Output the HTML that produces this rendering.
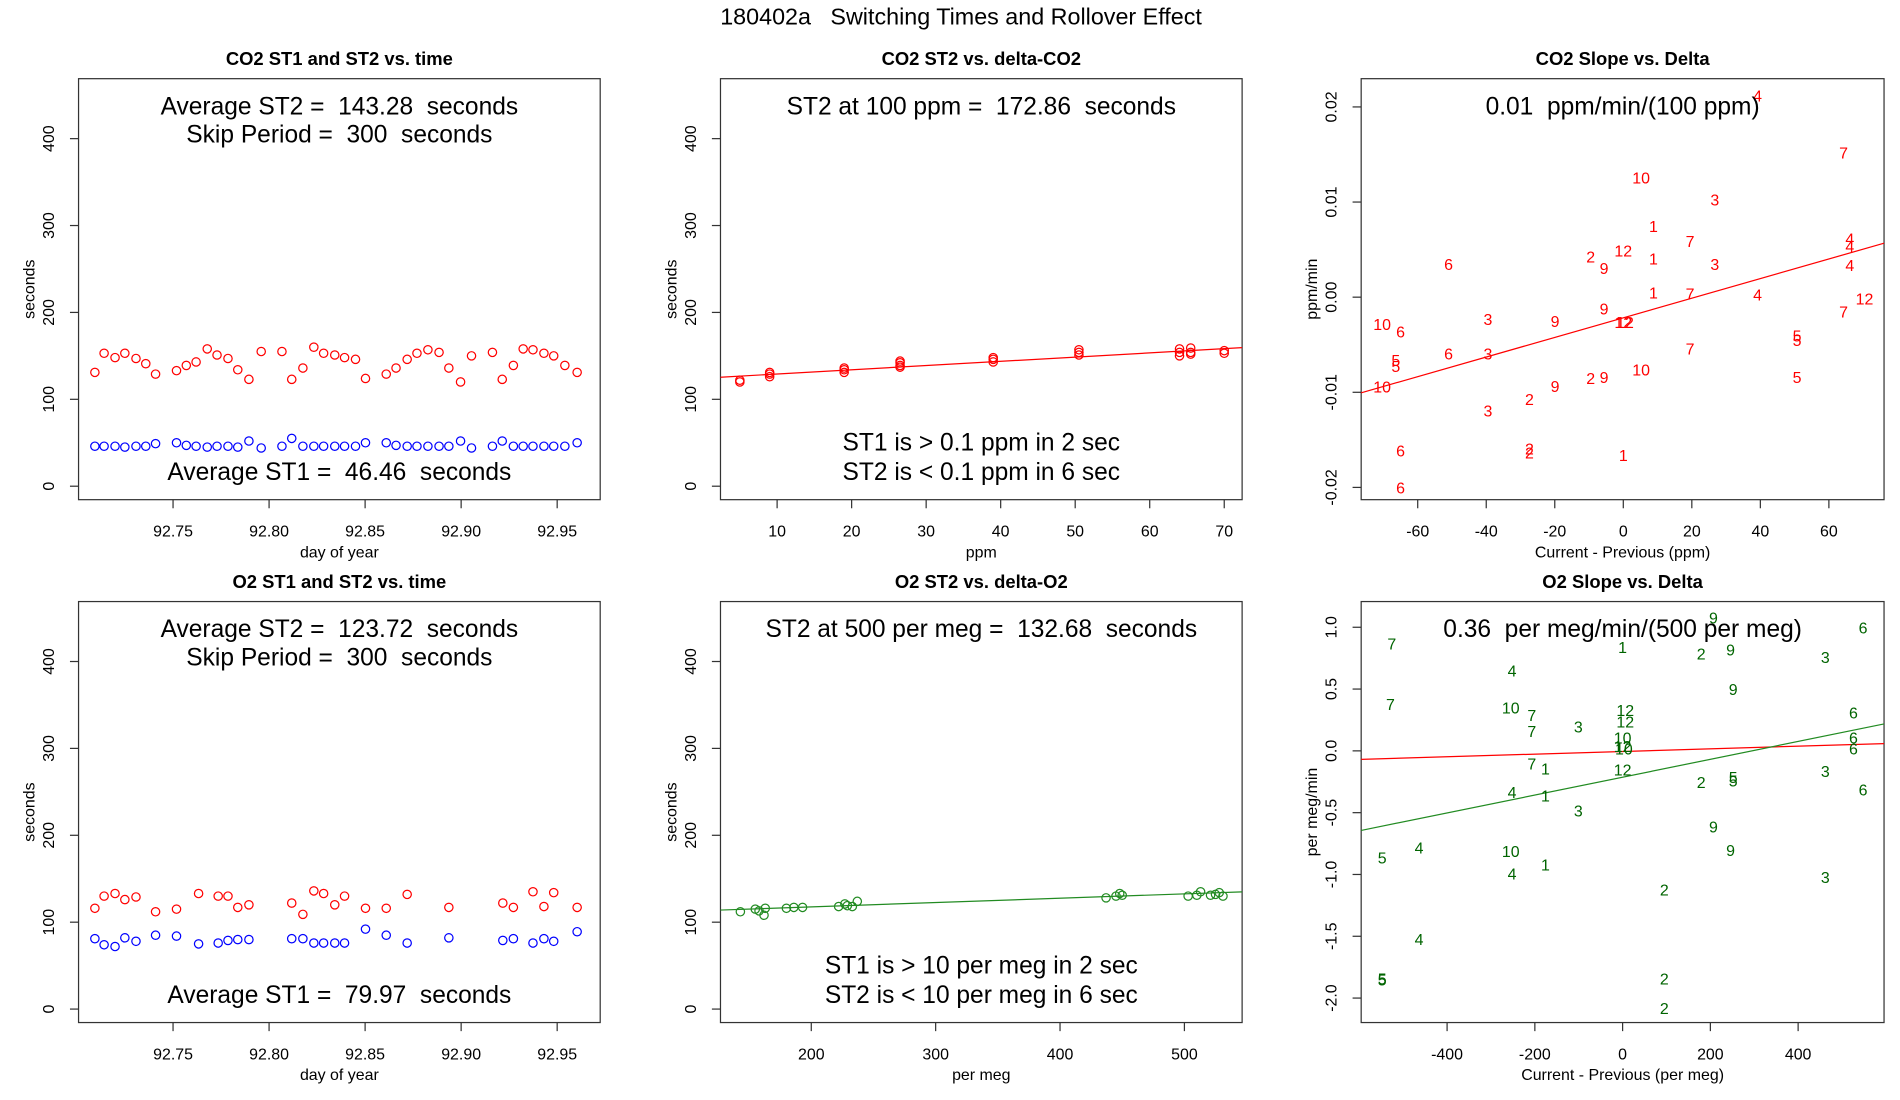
<!DOCTYPE html>
<html><head><meta charset="utf-8"><style>
html,body{margin:0;padding:0;background:#fff;width:1900px;height:1100px;overflow:hidden}
svg{display:block;font-family:"Liberation Sans",Arial,sans-serif}
svg text{white-space:pre}
</style></head><body>
<svg id="chart" width="1900" height="1100" viewBox="0 0 1548 896" xmlns="http://www.w3.org/2000/svg" xml:space="preserve">
<rect width="1548" height="896" fill="#fff"/>
<text x="783" y="20" font-size="19" text-anchor="middle">180402a   Switching Times and Rollover Effect</text>
</svg>
<script>
// ---------- DATA ----------
const co2Days = [92.7093,92.7141,92.7198,92.7249,92.7307,92.7358,92.7409,92.7518,92.7569,92.7620,92.7678,92.7729,92.7786,92.7837,92.7895,92.7959,92.8067,92.8118,92.8176,92.8233,92.8284,92.8342,92.8393,92.8450,92.8502,92.8610,92.8661,92.8719,92.8770,92.8827,92.8885,92.8936,92.8997,92.9054,92.9163,92.9214,92.9272,92.9323,92.9374,92.9431,92.9482,92.9540,92.9604];
const co2ST2 = [131,153,148,153,147,141,129,133,139,143,158,151,147,134,123,155,155,123,136,160,153,151,148,146,124,129,136,146,153,157,154,136,120,150,154,123,139,158,157,153,150,139,131];
const co2ST1 = [46,46,46,45,46,46,49,50,47,46,45,46,46,45,52,44,46,55,46,46,46,46,46,46,50,50,47,46,46,46,46,46,52,44,46,52,46,46,46,46,46,46,50];
const o2Days = [92.7093,92.7141,92.7198,92.7249,92.7307,92.7409,92.7518,92.7633,92.7735,92.7786,92.7837,92.7895,92.8118,92.8176,92.8233,92.8284,92.8342,92.8393,92.8502,92.8610,92.8719,92.8936,92.9217,92.9272,92.9374,92.9431,92.9482,92.9604];
const o2ST2 = [116,130,133,126,129,112,115,133,130,130,117,120,122,109,136,133,120,130,116,116,132,117,122,117,135,118,134,117];
const o2ST1 = [81,74,72,82,78,85,84,75,76,79,80,80,81,81,76,76,76,76,92,85,76,82,79,81,76,81,78,89];
const co2Ppm = [5,5,9,9,9,19,19,19,26.5,26.5,26.5,26.5,39,39,39,50.5,50.5,50.5,64,64,64,65.5,65.5,65.5,70,70];
const co2PpmST2 = [120,122,126,129,131,131,134,136,137,139,142,144,143,146,148,151,154,157,150,154,158,152,154,159,153,156];
const co2FitA = 124.26, co2FitB = 0.486;
const o2Meg = [143,155,158,162,163,180,186,193,222,227,229,233,237,437,445,448,450,503,510,513,521,525,528,531];
const o2MegST2 = [112,115,113,108,116,116,117,117,118,121,119,118,124,128,130,133,131,130,131,135,131,132,134,130];
const o2FitA = 107.6, o2FitB = 0.050;
const co2SlopeLabels = ["4","7","10","3","1","7","4","4","6","2","12","9","1","3","4","1","7","4","12","10","6","3","9","9","12","12","7","5","5","5","5","6","3","7","10","2","9","9","2","10","5","3","2","2","1","6","6"];
const co2Delta = [39.2,64.3,5.2,26.7,8.8,19.5,66.1,66.1,-51,-9.5,0,-5.6,8.8,26.7,66.1,8.8,19.5,39.2,70.4,-70.4,-65,-39.5,-19.9,-5.6,0,0.5,64.3,50.7,50.7,-66.4,-66.4,-51,-39.5,19.5,5.2,-9.5,-5.6,-19.9,-27.4,-70.4,50.7,-39.5,-27.4,-27.4,0,-65,-65];
const co2Slope = [0.0212,0.0152,0.0126,0.0103,0.0075,0.0059,0.0062,0.0054,0.0035,0.0043,0.0049,0.0031,0.0041,0.0035,0.0034,0.0005,0.0004,0.0003,-0.0001,-0.0028,-0.0036,-0.0023,-0.0025,-0.0012,-0.0026,-0.0026,-0.0015,-0.0040,-0.0045,-0.0066,-0.0072,-0.0059,-0.0059,-0.0054,-0.0076,-0.0085,-0.0084,-0.0093,-0.0107,-0.0094,-0.0084,-0.0119,-0.0159,-0.0163,-0.0166,-0.0161,-0.0200];
const co2SlopeFitA = -0.00217, co2SlopeFitB = 0.0001031;
const o2SlopeLabels = ["9","6","7","1","2","9","3","4","9","7","10","7","12","3","6","12","7","10","6","12","10","6","7","1","12","3","2","5","5","4","1","6","3","9","5","4","10","9","1","4","3","2","4","5","5","2","2"];
const o2Delta = [207,548,-526,0,179,246,462,-252,252,-529,-255,-207,6,-101,526,6,-207,0,526,0,3,526,-207,-176,0,462,179,252,252,-252,-176,548,-101,207,-548,-464,-255,246,-176,-252,462,95,-464,-548,-548,95,95];
const o2Slope = [1.08,1.0,0.87,0.84,0.79,0.82,0.76,0.65,0.50,0.38,0.35,0.29,0.33,0.20,0.31,0.24,0.16,0.11,0.11,0.04,0.02,0.02,-0.10,-0.14,-0.15,-0.16,-0.25,-0.21,-0.24,-0.33,-0.36,-0.31,-0.48,-0.61,-0.86,-0.78,-0.81,-0.80,-0.92,-0.99,-1.02,-1.12,-1.52,-1.84,-1.85,-1.84,-2.08];
const o2SlopeFitA = -0.213, o2SlopeFitB = 0.000723;
const o2ConcFitA = -0.005, o2ConcFitB = 0.000107;

// ---------- DRAWING ----------
const NS = "http://www.w3.org/2000/svg";
const svg = document.getElementById('chart');
function mk(tag, attrs, parent, txt){
  const e = document.createElementNS(NS, tag);
  for (const k in attrs) e.setAttribute(k, attrs[k]);
  if (txt !== undefined) e.textContent = txt;
  (parent || svg).appendChild(e);
  return e;
}
function lin(d0,d1,r0,r1){ return v => r0 + (v-d0)*(r1-r0)/(d1-d0); }

function panel(name, box, xd, yd, xticks, xfmt, yticks, yfmt, title, xlab, ylab){
  const g = mk('g', {});
  
  
  const x = lin(xd[0], xd[1], box.x0, box.x1);
  const y = lin(yd[0], yd[1], box.y1, box.y0);
  const t = mk('text', {x:(box.x0+box.x1)/2, y:box.y0-11, 'font-size':15, 'font-weight':'bold', 'text-anchor':'middle'}, g, title);
  
  
  const fr = mk('rect', {x:box.x0, y:box.y0, width:box.x1-box.x0, height:box.y1-box.y0, fill:'none', stroke:'#333', 'stroke-width':1}, g);
  
  
  const xa = mk('g', {}, g);
  
  
  xticks.forEach(v => {
    const px = x(v);
    mk('line', {x1:px, x2:px, y1:box.y1, y2:box.y1+7, stroke:'#333'}, xa);
    const tl = mk('text', {x:px, y:box.y1+30, 'font-size':13, 'text-anchor':'middle'}, xa, xfmt(v));
    
    
  });
  const xl = mk('text', {x:(box.x0+box.x1)/2, y:box.y1+47, 'font-size':13, 'text-anchor':'middle'}, g, xlab);
  
  
  const ya = mk('g', {}, g);
  
  
  yticks.forEach(v => {
    const py = y(v);
    mk('line', {x1:box.x0-7, x2:box.x0, y1:py, y2:py, stroke:'#333'}, ya);
    const tx = box.x0-20;
    const tl = mk('text', {x:tx, y:py, 'font-size':13, 'text-anchor':'middle', transform:`rotate(-90 ${tx} ${py})`}, ya, yfmt(v));
    
    
  });
  const yx = box.x0-36, ym = (box.y0+box.y1)/2;
  const yl = mk('text', {x:yx, y:ym, 'font-size':13, 'text-anchor':'middle', transform:`rotate(-90 ${yx} ${ym})`}, g, ylab);
  
  
  return {g, x, y, box};
}
function note(p, txt, py, cx){
  const t = mk('text', {x: cx !== undefined ? cx : (p.box.x0+p.box.x1)/2, y:py, 'font-size':20, 'text-anchor':'middle'}, p.g, txt);
  
  
}
function circles(p, xs, ys, color, nm){
  const g = mk('g', {}, p.g);
  
  
  xs.forEach((v,i) => {
    const c = mk('circle', {cx:p.x(v), cy:p.y(ys[i]), r:3.4, fill:'none', stroke:color, 'stroke-width':1}, g);
    
    
  });
}
function fitLine(p, xd, a, b, color, nm){
  const l = mk('line', {x1:p.x(xd[0]), y1:p.y(a+b*xd[0]), x2:p.x(xd[1]), y2:p.y(a+b*xd[1]), stroke:color, 'stroke-width':1}, p.g);
  
  
}
function labels(p, xs, ys, labs, color, nm){
  const g = mk('g', {}, p.g);
  
  
  xs.forEach((v,i) => {
    const t = mk('text', {x:p.x(v), y:p.y(ys[i])+5, 'font-size':13, fill:color, 'text-anchor':'middle'}, g, labs[i]);
    
    
  });
}
const f2 = v => v.toFixed(2);
const fi = v => String(v);
const f1 = v => v.toFixed(1);
const secTicks = [0,100,200,300,400];
const dayTicks = [92.75,92.80,92.85,92.90,92.95];
const dayD = [92.7008, 92.9724];
const secD = [-15.5, 469];

const OFF = 426;
// Panel 1
let p = panel('co2-time-panel', {x0:64,x1:489,y0:64,y1:407}, dayD, secD, dayTicks, f2, secTicks, fi, 'CO2 ST1 and ST2 vs. time', 'day of year', 'seconds');
circles(p, co2Days, co2ST2, '#ff0000', 'co2-st2-series');
circles(p, co2Days, co2ST1, '#0000ff', 'co2-st1-series');
note(p, 'Average ST2 =  143.28  seconds', 93);
note(p, 'Skip Period =  300  seconds', 116);
note(p, 'Average ST1 =  46.46  seconds', 391);
// Panel 2
const ppmD = [2.4, 72.4];
p = panel('co2-delta-panel', {x0:587,x1:1012,y0:64,y1:407}, ppmD, secD, [10,20,30,40,50,60,70], fi, secTicks, fi, 'CO2 ST2 vs. delta-CO2', 'ppm', 'seconds');
fitLine(p, ppmD, co2FitA, co2FitB, '#ff0000', 'co2-fit-line');
circles(p, co2Ppm, co2PpmST2, '#ff0000', 'co2-st2-delta-series');
note(p, 'ST2 at 100 ppm =  172.86  seconds', 93);
note(p, 'ST1 is > 0.1 ppm in 2 sec', 367);
note(p, 'ST2 is < 0.1 ppm in 6 sec', 391);
// Panel 3
const dD = [-76.5, 76.1];
p = panel('co2-slope-panel', {x0:1109,x1:1535,y0:64,y1:407}, dD, [-0.02129, 0.02297], [-60,-40,-20,0,20,40,60], fi, [-0.02,-0.01,0,0.01,0.02], f2, 'CO2 Slope vs. Delta', 'Current - Previous (ppm)', 'ppm/min');
fitLine(p, dD, co2SlopeFitA, co2SlopeFitB, '#ff0000', 'co2-slope-fit-line');
labels(p, co2Delta, co2Slope, co2SlopeLabels, '#ff0000', 'co2-slope-labels');
note(p, '0.01  ppm/min/(100 ppm)', 93);
// Panel 4
p = panel('o2-time-panel', {x0:64,x1:489,y0:64+OFF,y1:407+OFF}, dayD, secD, dayTicks, f2, secTicks, fi, 'O2 ST1 and ST2 vs. time', 'day of year', 'seconds');
circles(p, o2Days, o2ST2, '#ff0000', 'o2-st2-series');
circles(p, o2Days, o2ST1, '#0000ff', 'o2-st1-series');
note(p, 'Average ST2 =  123.72  seconds', 93+OFF);
note(p, 'Skip Period =  300  seconds', 116+OFF);
note(p, 'Average ST1 =  79.97  seconds', 391+OFF);
// Panel 5
const megD = [127, 546.4];
p = panel('o2-delta-panel', {x0:587,x1:1012,y0:64+OFF,y1:407+OFF}, megD, secD, [200,300,400,500], fi, secTicks, fi, 'O2 ST2 vs. delta-O2', 'per meg', 'seconds');
fitLine(p, megD, o2FitA, o2FitB, '#228b22', 'o2-fit-line');
circles(p, o2Meg, o2MegST2, '#228b22', 'o2-st2-delta-series');
note(p, 'ST2 at 500 per meg =  132.68  seconds', 93+OFF);
note(p, 'ST1 is > 10 per meg in 2 sec', 367+OFF);
note(p, 'ST2 is < 10 per meg in 6 sec', 391+OFF);
// Panel 6
const dmD = [-595.8, 595.8];
p = panel('o2-slope-panel', {x0:1109,x1:1535,y0:64+OFF,y1:407+OFF}, dmD, [-2.198, 1.208], [-400,-200,0,200,400], fi, [-2,-1.5,-1,-0.5,0,0.5,1], f1, 'O2 Slope vs. Delta', 'Current - Previous (per meg)', 'per meg/min');
fitLine(p, dmD, o2ConcFitA, o2ConcFitB, '#ff0000', 'o2-conc-fit-line');
fitLine(p, dmD, o2SlopeFitA, o2SlopeFitB, '#228b22', 'o2-slope-fit-line');
labels(p, o2Delta, o2Slope, o2SlopeLabels, '#006400', 'o2-slope-labels');
note(p, '0.36  per meg/min/(500 per meg)', 93+OFF);
</script>
</body></html>
